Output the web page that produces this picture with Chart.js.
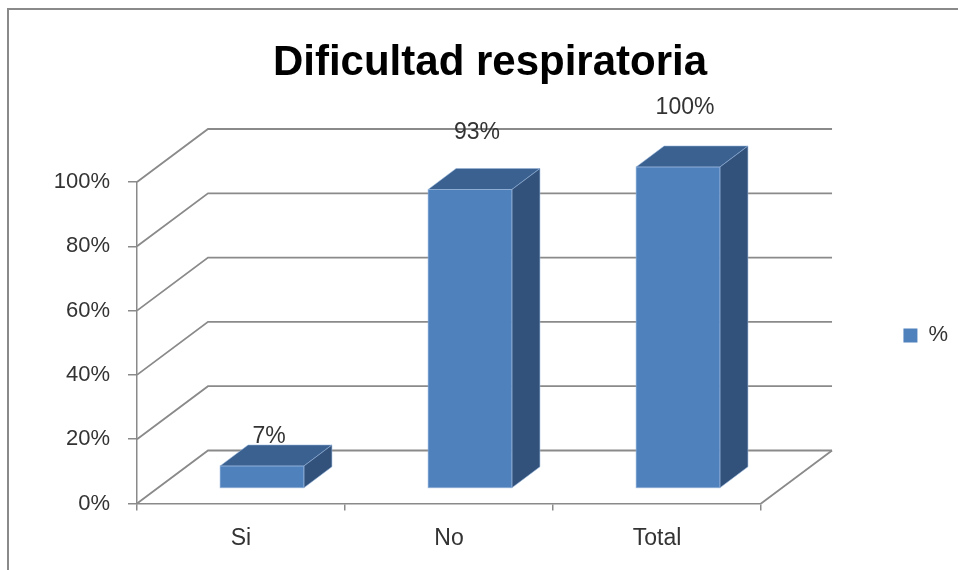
<!DOCTYPE html>
<html>
<head>
<meta charset="utf-8">
<script src="https://cdn.jsdelivr.net/npm/chart.js@4.4.1/dist/chart.umd.min.js"></script>
<style>
  html, body { margin: 0; padding: 0; background: #ffffff; }
  #wrap { position: relative; width: 958px; height: 570px; }
</style>
</head>
<body>
<div id="wrap"><canvas id="c" width="958" height="570"></canvas></div>
<script>
// ---- data ----
const categories = ['Si', 'No', 'Total'];
const seriesName = '%';
const seriesValues = [7, 93, 100];
const yTickValues = [0, 20, 40, 60, 80, 100];
const titleText = 'Dificultad respiratoria';

// ---- style ----
const FONT = "'Liberation Sans', Arial, sans-serif";
const GRID = '#8a8a8a';
const FRONT = '#4f81bd';
const TOP = '#3b6191';
const SIDE = '#33527b';
const DX = 71, DY = 53;       // depth of the back wall
const BOX = 21, BOY = -15;    // bar front plane offset
const BDX = 28, BDY = 21;     // bar depth

const threeD = {
  id: 'threeD',
  beforeDraw(chart) {
    const ctx = chart.ctx;
    ctx.save();
    ctx.strokeStyle = GRID;
    ctx.lineWidth = 2;
    ctx.strokeRect(8, 9, 1200, 1200);
    ctx.restore();
  },
  beforeDatasetsDraw(chart) {
    const ctx = chart.ctx;
    const {left, right} = chart.chartArea;
    const ys = chart.scales.y;
    ctx.save();
    ctx.strokeStyle = GRID;
    ctx.lineWidth = 1.8;
    ys.ticks.forEach(t => {
      const py = ys.getPixelForValue(t.value);
      ctx.beginPath();
      ctx.moveTo(left, py);
      ctx.lineTo(left + DX, py - DY);
      ctx.lineTo(right + DX, py - DY);
      ctx.stroke();
    });
    const p0 = ys.getPixelForValue(0);
    ctx.beginPath();
    ctx.moveTo(right, p0);
    ctx.lineTo(right + DX, p0 - DY);
    ctx.stroke();
    ctx.restore();
    ctx.save();
    ctx.translate(BOX, BOY);
  },
  afterDatasetsDraw(chart) {
    const ctx = chart.ctx;
    const meta = chart.getDatasetMeta(0);
    meta.data.forEach(el => {
      const {x, y, base, width} = el.getProps(['x', 'y', 'base', 'width'], true);
      const x0 = x - width / 2, x1 = x + width / 2;
      const yt = Math.min(y, base), yb = Math.max(y, base);
      ctx.lineWidth = 1;
      ctx.strokeStyle = 'rgba(150,180,220,0.55)';
      // top face
      ctx.beginPath();
      ctx.moveTo(x0, yt);
      ctx.lineTo(x0 + BDX, yt - BDY);
      ctx.lineTo(x1 + BDX, yt - BDY);
      ctx.lineTo(x1, yt);
      ctx.closePath();
      ctx.fillStyle = TOP;
      ctx.fill();
      ctx.stroke();
      // side face
      ctx.beginPath();
      ctx.moveTo(x1, yt);
      ctx.lineTo(x1 + BDX, yt - BDY);
      ctx.lineTo(x1 + BDX, yb - BDY);
      ctx.lineTo(x1, yb);
      ctx.closePath();
      ctx.fillStyle = SIDE;
      ctx.fill();
      ctx.stroke();
      // front outline
      ctx.strokeRect(x0, yt, width, yb - yt);
    });
    ctx.restore();
    // value labels
    ctx.save();
    ctx.font = '23px ' + FONT;
    ctx.fillStyle = '#333333';
    ctx.textAlign = 'center';
    ctx.textBaseline = 'middle';
    meta.data.forEach((el, i) => {
      const v = seriesValues[i];
      const top = el.y + BOY;
      ctx.fillText(v + '%', el.x + BOX + 7, top - 27 - 0.32 * v);
    });
    ctx.restore();
  }
};

new Chart(document.getElementById('c'), {
  type: 'bar',
  data: {
    labels: categories,
    datasets: [{
      label: seriesName,
      data: seriesValues,
      backgroundColor: FRONT,
      borderWidth: 0,
      barPercentage: 0.403,
      categoryPercentage: 1.0
    }]
  },
  plugins: [threeD],
  options: {
    responsive: false,
    animation: false,
    devicePixelRatio: 1,
    layout: { padding: { left: 22, right: 0, top: 0, bottom: 0 } },
    plugins: {
      title: {
        display: true,
        text: titleText,
        color: '#000000',
        font: { family: FONT, size: 42, weight: 'bold' },
        padding: { top: 38, bottom: 93.6 }
      },
      legend: {
        display: true,
        position: 'right',
        fullSize: false,
        align: 'start',
        labels: {
          boxWidth: 14, boxHeight: 14,
          padding: 142.4,
          color: '#333333',
          font: { family: FONT, size: 22 }
        }
      },
      tooltip: { enabled: false }
    },
    scales: {
      x: {
        afterFit(s) { s.height = 66.5; },
        grid: { display: true, drawOnChartArea: false, drawTicks: true, tickLength: 7, color: GRID, lineWidth: 1.5, offset: true },
        border: { display: true, color: GRID, width: 1.5 },
        ticks: { color: '#333333', font: { family: FONT, size: 23 }, padding: 14 }
      },
      y: {
        min: 0, max: 100,
        afterFit(s) { s.width = 115; },
        afterBuildTicks(s) { s.ticks = yTickValues.map(v => ({ value: v })); },
        grid: { display: true, drawOnChartArea: false, drawTicks: true, tickLength: 9, color: GRID, lineWidth: 1.5 },
        border: { display: true, color: GRID, width: 1.5 },
        ticks: { color: '#333333', font: { family: FONT, size: 22 }, padding: 18, callback: v => v + '%' }
      }
    }
  }
});
</script>
</body>
</html>
